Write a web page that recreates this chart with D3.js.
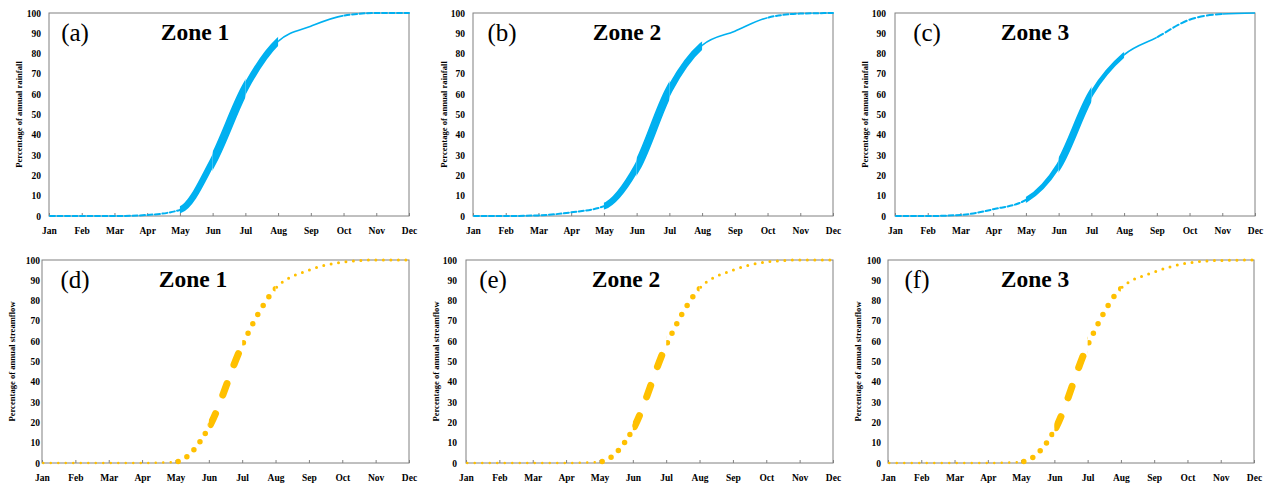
<!DOCTYPE html>
<html>
<head>
<meta charset="utf-8">
<title>Cumulative rainfall and streamflow</title>
<script src="https://d3js.org/d3.v7.min.js"></script>
<style>
    body { margin: 0; background: #fff; }
    .axis text { font-family: "Liberation Serif", "Times New Roman", serif; font-weight: bold; font-size: 9.5px; fill: #000; }
    .axis path { display: none; }
    .axis line { stroke: #808080; }
    .ytitle { font-family: "Liberation Serif", serif; font-weight: bold; font-size: 8.6px; }
    .plabel { font-family: "Liberation Serif", serif; font-size: 25px; }
    .zone { font-family: "Liberation Serif", serif; font-weight: bold; font-size: 23.5px; }
</style>
</head>
<body>
<script>
    var W = 1269, H = 484;
    var months = ["Jan","Feb","Mar","Apr","May","Jun","Jul","Aug","Sep","Oct","Nov","Dec"];
    var yTicks = [0,10,20,30,40,50,60,70,80,90,100];

    // cumulative % of annual rainfall, end of each month
    var rain1 = [0, 0, 0, 0.5, 3, 27, 63, 86, 93.5, 98.7, 100, 100];
    var rain2 = [0, 0, 0.3, 1.8, 4.8, 24, 62, 84, 91, 97.7, 99.7, 100];
    var rain3 = [0, 0, 0.5, 3.3, 7.9, 25, 60, 79.4, 88, 96.7, 99.5, 100];
    // cumulative % of annual streamflow
    var flow1 = [0, 0, 0, 0, 0.5, 17.5, 58, 86, 95, 98.9, 100, 100];
    var flow2 = [0, 0, 0, 0, 0.5, 16.5, 58, 86, 95, 99, 100, 100];
    var flow3 = [0, 0, 0, 0, 0.5, 16, 58, 86, 94, 98.5, 99.8, 100];

    var blue = "#00b0f0", gold = "#ffc000";

    // line pieces: month range, width, dash
    var rainStyleA = [
        {a:0, b:4, w:2, dash:"5,2.5"},
        {a:4, b:5, w:6.5, dash:null},
        {a:5, b:6, w:8.5, dash:null},
        {a:6, b:7, w:6.5, dash:null},
        {a:7, b:9, w:1.6, dash:null},
        {a:9, b:11, w:2, dash:"5,2.5"}
    ];
    var rainStyleC = [
        {a:0, b:4, w:2, dash:"5,2.5"},
        {a:4, b:5, w:5, dash:null},
        {a:5, b:6, w:7.5, dash:null},
        {a:6, b:7, w:4.5, dash:null},
        {a:7, b:8, w:1.6, dash:null},
        {a:8, b:10, w:2, dash:"6,3"},
        {a:10, b:11, w:1.6, dash:null}
    ];
    var flowStyle = [
        {a:0, b:4, w:2.5, dash:"0,7.5"},
        {a:4, b:5, w:5.5, dash:"0,10"},
        {a:5, b:6, w:7, dash:"12,20"},
        {a:6, b:7, w:5.5, dash:"0,10.5"},
        {a:7, b:11, w:3, dash:"0,7.5"}
    ];

    var panels = [
        {id:"a", zone:"Zone 1", x0:49,  x1:409,  y0:13,  y1:216, yPad:8, tx:19,  title:"Percentage of annual rainfall", data:rain1, color:blue, st:rainStyleA, lx:26, zx:146},
        {id:"b", zone:"Zone 2", x0:473, x1:833,  y0:13,  y1:216, yPad:8, tx:444, title:"Percentage of annual rainfall", data:rain2, color:blue, st:rainStyleA, lx:29, zx:154},
        {id:"c", zone:"Zone 3", x0:895, x1:1255, y0:13,  y1:216, yPad:9, tx:865, title:"Percentage of annual rainfall", data:rain3, color:blue, st:rainStyleC, lx:32, zx:140},
        {id:"d", zone:"Zone 1", x0:42,  x1:409,  y0:260, y1:463, yPad:2, tx:12,  title:"Percentage of annual streamflow", data:flow1, color:gold, st:flowStyle, lx:33, zx:151},
        {id:"e", zone:"Zone 2", x0:466, x1:833,  y0:260, y1:463, yPad:9, tx:436, title:"Percentage of annual streamflow", data:flow2, color:gold, st:flowStyle, lx:27, zx:160},
        {id:"f", zone:"Zone 3", x0:888, x1:1254, y0:260, y1:463, yPad:7, tx:858, title:"Percentage of annual streamflow", data:flow3, color:gold, st:flowStyle, lx:29, zx:147}
    ];

    var svg = d3.select("body").append("svg")
        .attr("width", W).attr("height", H);
    var defs = svg.append("defs");

    // path length at which the curve reaches x = xt
    function lengthAtX(node, xt) {
        var lo = 0, hi = node.getTotalLength();
        for (var k = 0; k < 40; k++) {
            var mid = (lo + hi) / 2;
            if (node.getPointAtLength(mid).x < xt) lo = mid; else hi = mid;
        }
        return lo;
    }

    panels.forEach(function(p, pi) {
        var x = d3.scalePoint().domain(months).range([p.x0, p.x1]);
        var xi = d3.scaleLinear().domain([0, 11]).range([p.x0, p.x1]);
        var y = d3.scaleLinear().domain([0, 100]).range([p.y1, p.y0]);
        var g = svg.append("g");

        // frame
        g.append("rect")
            .attr("x", p.x0).attr("y", p.y0)
            .attr("width", p.x1 - p.x0).attr("height", p.y1 - p.y0)
            .attr("fill", "none").attr("stroke", "#808080").attr("stroke-width", 1);

        g.append("g").attr("class", "axis")
            .attr("transform", "translate(0," + p.y1 + ")")
            .call(d3.axisBottom(x).tickSize(-3).tickPadding(11.5));
        g.append("g").attr("class", "axis")
            .attr("transform", "translate(" + p.x0 + ",0)")
            .call(d3.axisLeft(y).tickValues(yTicks).tickSize(0).tickPadding(p.yPad));

        g.append("text").attr("class", "ytitle")
            .attr("transform", "translate(" + p.tx + "," + ((p.y0 + p.y1) / 2) + ") rotate(-90)")
            .attr("text-anchor", "middle").attr("dy", "0.35em")
            .text(p.title);

        var line = d3.line()
            .x(function(d, i) { return xi(i); })
            .y(function(d) { return y(d); })
            .curve(d3.curveMonotoneX);

        p.st.forEach(function(s, si) {
            var cid = "clip" + pi + "_" + si;
            defs.append("clipPath").attr("id", cid)
                .append("rect")
                .attr("x", xi(s.a)).attr("y", p.y0 - 20)
                .attr("width", xi(s.b) - xi(s.a) + (s.b === 11 ? 3 : 0))
                .attr("height", p.y1 - p.y0 + 40);
            var path = g.append("path")
                .datum(p.data)
                .attr("clip-path", "url(#" + cid + ")")
                .attr("d", line)
                .attr("fill", "none")
                .attr("stroke", p.color)
                .attr("stroke-width", s.w)
                .attr("stroke-linecap", s.dash ? "round" : "butt")
                .attr("stroke-dasharray", s.dash);
            if (s.dash) {
                var la = lengthAtX(path.node(), xi(s.a));
                path.attr("stroke-dashoffset", -(la + s.w / 2));
            }
        });

        g.append("text").attr("class", "plabel")
            .attr("x", p.x0 + p.lx).attr("y", p.y0 + 28)
            .attr("text-anchor", "middle").text("(" + p.id + ")");
        g.append("text").attr("class", "zone")
            .attr("x", p.x0 + p.zx).attr("y", p.y0 + 26.5)
            .attr("text-anchor", "middle").text(p.zone);
    });
</script>
</body>
</html>
